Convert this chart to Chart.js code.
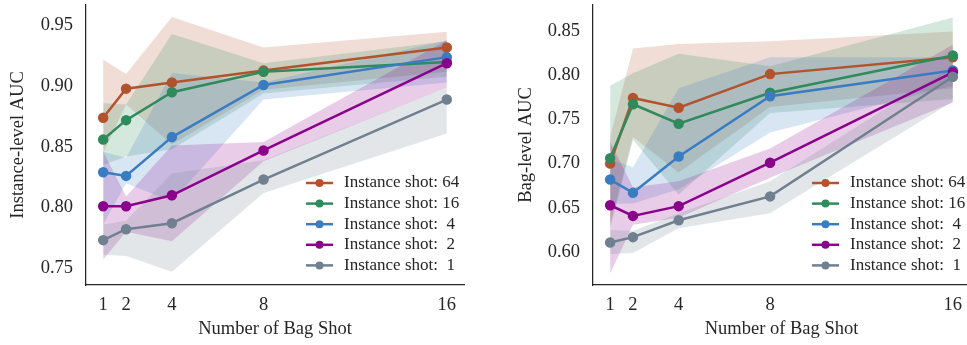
<!DOCTYPE html>
<html>
<head>
<meta charset="utf-8">
<script src="https://cdn.jsdelivr.net/npm/chart.js@4"></script>
<style>
  html, body { margin: 0; padding: 0; background: #fff; overflow: hidden; }
  #wrap { position: relative; width: 967px; height: 345px; overflow: hidden; }
  canvas { position: absolute; top: 0; }
</style>
</head>
<body>
<div id="wrap">
  <canvas id="instChart" width="480" height="345" style="left:0;width:480px;height:345px"></canvas>
  <canvas id="bagChart" width="495" height="345" style="left:480px;width:495px;height:345px"></canvas>
</div>
<script>
const bagShots = [1, 2, 4, 8, 16];
const shotLabels = ['Instance shot: 64', 'Instance shot: 16', 'Instance shot:  4', 'Instance shot:  2', 'Instance shot:  1'];
const colors = ['#b2532e', '#2f8a5c', '#3a7cc2', '#8b008b', '#708090'];
const bands = ['rgba(178,83,46,0.2)', 'rgba(47,138,92,0.2)', 'rgba(58,124,194,0.2)', 'rgba(139,0,139,0.2)', 'rgba(112,128,144,0.2)'];

// instance-level AUC (left panel)
const instTicks = [0.75, 0.80, 0.85, 0.90, 0.95];
const instMean = [
  [0.874, 0.898, 0.903, 0.913, 0.932],
  [0.856, 0.872, 0.895, 0.912, 0.920],
  [0.829, 0.826, 0.858, 0.901, 0.924],
  [0.801, 0.801, 0.810, 0.847, 0.919],
  [0.773, 0.782, 0.787, 0.823, 0.889]
];
const instHigh = [
  [0.922, 0.910, 0.957, 0.932, 0.945],
  [0.886, 0.885, 0.943, 0.919, 0.937],
  [0.846, 0.841, 0.911, 0.903, 0.938],
  [0.846, 0.809, 0.851, 0.854, 0.938],
  [0.786, 0.789, 0.828, 0.839, 0.899]
];
const instLow = [
  [0.845, 0.885, 0.852, 0.897, 0.912],
  [0.835, 0.842, 0.848, 0.894, 0.908],
  [0.786, 0.820, 0.805, 0.889, 0.903],
  [0.757, 0.780, 0.772, 0.838, 0.899],
  [0.761, 0.760, 0.747, 0.812, 0.861]
];

// bag-level AUC (right panel)
const bagTicks = [0.60, 0.65, 0.70, 0.75, 0.80, 0.85];
const bagMean = [
  [0.700, 0.774, 0.763, 0.801, 0.820],
  [0.706, 0.767, 0.745, 0.780, 0.822],
  [0.682, 0.667, 0.708, 0.776, 0.805],
  [0.653, 0.641, 0.652, 0.701, 0.803],
  [0.611, 0.617, 0.636, 0.663, 0.798]
];
const bagHigh = [
  [0.730, 0.830, 0.835, 0.838, 0.849],
  [0.788, 0.802, 0.824, 0.810, 0.865],
  [0.705, 0.696, 0.785, 0.820, 0.820],
  [0.725, 0.673, 0.680, 0.717, 0.834],
  [0.625, 0.624, 0.644, 0.680, 0.810]
];
const bagLow = [
  [0.631, 0.730, 0.690, 0.764, 0.785],
  [0.627, 0.727, 0.665, 0.757, 0.773],
  [0.655, 0.655, 0.671, 0.735, 0.788],
  [0.576, 0.631, 0.639, 0.684, 0.769],
  [0.598, 0.599, 0.627, 0.644, 0.770]
];

Chart.defaults.font.family = '"Liberation Serif", "Times New Roman", serif';
Chart.defaults.color = '#262626';

function pts(vals) {
  return bagShots.map((x, j) => ({ x: x, y: vals[j] }));
}

function makeDatasets(mean, low, high) {
  const sets = [];
  mean.forEach((m, i) => {
    sets.push({
      label: shotLabels[i], isSeries: true, data: pts(m),
      borderColor: colors[i], backgroundColor: colors[i],
      borderWidth: 2.5, pointRadius: 4, pointHoverRadius: 4,
      fill: false, tension: 0, order: 5 - i
    });
  });
  mean.forEach((m, i) => {
    sets.push({
      label: 'hi', data: pts(high[i]), borderWidth: 0, pointRadius: 0,
      backgroundColor: bands[i], fill: '+1', order: 20 - i
    });
    sets.push({
      label: 'lo', data: pts(low[i]), borderWidth: 0, pointRadius: 0,
      fill: false, order: 20 - i
    });
  });
  return sets;
}

const lineLegend = {
  id: 'lineLegend',
  afterDatasetsDraw(chart) {
    const ctx = chart.ctx;
    const area = chart.chartArea;
    const x0 = area.right - 158;
    ctx.save();
    ctx.font = '17px "Liberation Serif", serif';
    ctx.textBaseline = 'middle';
    let row = 0;
    chart.data.datasets.forEach(ds => {
      if (!ds.isSeries) return;
      const y = area.bottom - 102 + row * 20.6;
      ctx.strokeStyle = ds.borderColor;
      ctx.lineWidth = 2.5;
      ctx.beginPath();
      ctx.moveTo(x0, y);
      ctx.lineTo(x0 + 27, y);
      ctx.stroke();
      ctx.fillStyle = ds.borderColor;
      ctx.beginPath();
      ctx.arc(x0 + 13.5, y, 4, 0, Math.PI * 2);
      ctx.fill();
      ctx.fillStyle = '#262626';
      ctx.fillText(ds.label, x0 + 38, y);
      row++;
    });
    ctx.restore();
  }
};

function makeChart(id, mean, low, high, yTicks, yMin, yMax, yTitle, yWidth, titlePad, rightPad) {
  return new Chart(document.getElementById(id), {
    type: 'line',
    data: { datasets: makeDatasets(mean, low, high) },
    options: {
      responsive: false,
      animation: false,
      layout: { autoPadding: false, padding: { left: 0, top: 5, right: rightPad, bottom: 0 } },
      plugins: { legend: { display: false }, tooltip: { enabled: false } },
      scales: {
        x: {
          type: 'linear', min: 0.25, max: 16.75,
          grid: { display: false, drawTicks: false },
          border: { display: true, color: '#262626', width: 1.25 },
          afterBuildTicks: axis => { axis.ticks = bagShots.map(v => ({ value: v })); },
          afterFit: scale => { scale.height = 60; scale.paddingLeft = 0; scale.paddingRight = 0; },
          ticks: { font: { size: 18.5 }, padding: 9, maxRotation: 0, callback: v => String(v) },
          title: { display: true, text: 'Number of Bag Shot', font: { size: 18.5 }, padding: { top: 0, bottom: 5 } }
        },
        y: {
          min: yMin, max: yMax,
          grid: { display: false, drawTicks: false },
          border: { display: true, color: '#262626', width: 1.25 },
          afterBuildTicks: axis => { axis.ticks = yTicks.map(v => ({ value: v })); },
          afterFit: scale => { scale.width = yWidth; scale.paddingTop = 0; scale.paddingBottom = 0; },
          ticks: { font: { size: 18.5 }, padding: 13, callback: v => v.toFixed(2) },
          title: { display: true, text: yTitle, font: { size: 18.5 }, padding: { top: titlePad, bottom: 0 } }
        }
      }
    },
    plugins: [lineLegend]
  });
}

makeChart('instChart', instMean, instLow, instHigh, instTicks, 0.736, 0.967, 'Instance-level AUC', 86, 7, 16);
makeChart('bagChart', bagMean, bagLow, bagHigh, bagTicks, 0.563, 0.879, 'Bag-level AUC', 113, 35.4, 5);
</script>
</body>
</html>
